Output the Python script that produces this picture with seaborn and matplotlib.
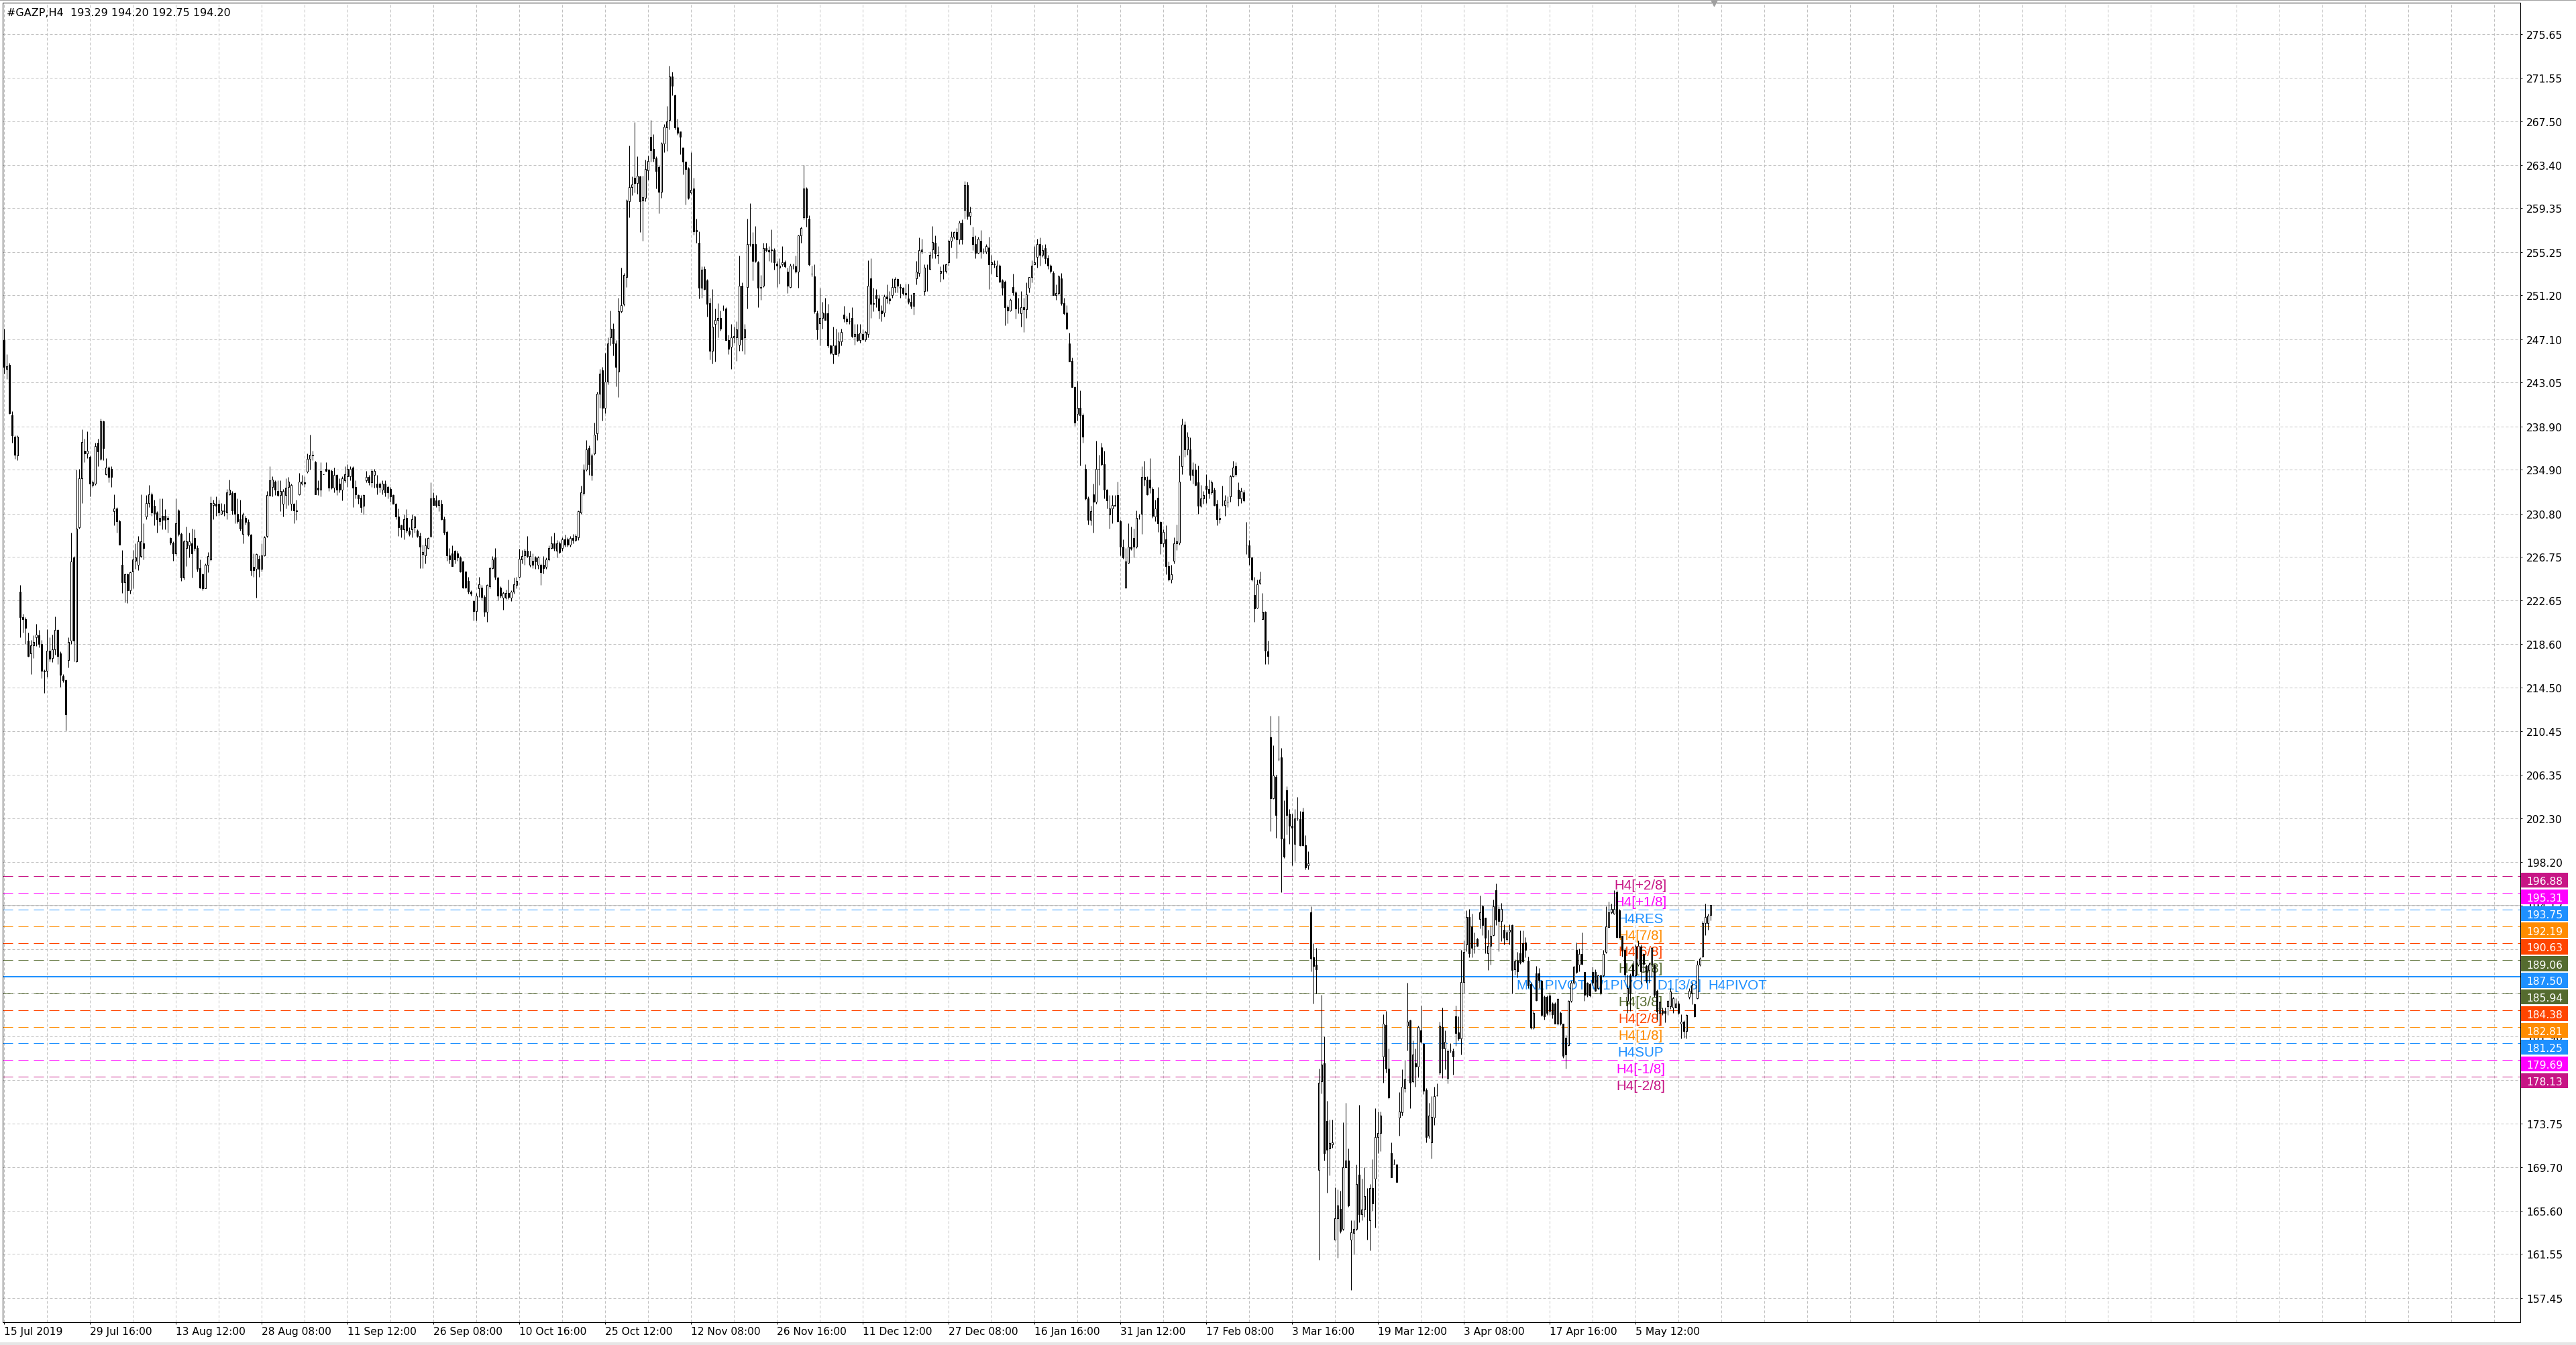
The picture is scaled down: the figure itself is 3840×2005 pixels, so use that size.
import numpy as np
import pandas as pd
import matplotlib
matplotlib.use("Agg")
import matplotlib.pyplot as plt
import matplotlib.transforms as mtransforms
from matplotlib.patches import Rectangle
import seaborn as sns

# header text of the chart (symbol, timeframe, last bar O H L C)
header = "#GAZP,H4  193.29 194.20 192.75 194.20"

# H4 candles, one value per bar (15 Jul 2019 .. mid May 2020)
opens = [
    247.0, 244.3, 244.7, 240.0, 238.0, 236.2, 223.5, 221.1, 220.9, 218.9,
    217.7, 218.5, 219.2, 219.4, 218.6, 216.1, 216.1, 218.0, 217.3, 218.1,
    219.9, 217.7, 215.6, 215.2, 217.1, 218.9, 226.7, 217.0, 229.5, 234.1,
    236.7, 236.4, 236.1, 233.5, 233.6, 237.4, 235.9, 239.4, 234.5, 235.1,
    235.0, 231.0, 231.3, 230.1, 226.0, 224.4, 225.1, 223.6, 225.4, 226.4,
    226.0, 226.8, 228.0, 230.5, 231.8, 232.6, 231.5, 230.9, 230.4, 230.6,
    230.6, 230.4, 228.5, 228.1, 227.1, 231.1, 228.9, 224.8, 227.6, 227.8,
    228.0, 228.5, 227.6, 225.7, 225.1, 223.8, 226.0, 226.5, 231.6, 231.7,
    231.7, 230.8, 231.1, 230.9, 232.6, 232.7, 232.7, 230.8, 230.3, 228.9,
    230.4, 230.0, 228.8, 225.8, 225.6, 226.6, 225.6, 226.9, 228.7, 232.5,
    233.3, 233.8, 232.9, 232.5, 231.7, 232.5, 233.3, 231.7, 231.7, 231.1,
    232.6, 233.6, 233.7, 234.7, 235.9, 236.2, 235.6, 233.2, 233.0, 234.5,
    235.0, 234.9, 234.8, 233.2, 234.4, 233.6, 233.0, 233.9, 234.3, 234.3,
    235.1, 233.3, 232.5, 232.3, 231.5, 233.9, 234.2, 233.7, 234.4, 233.6,
    233.6, 233.0, 233.6, 233.3, 233.1, 232.5, 231.7, 230.5, 229.7, 229.3,
    230.4, 229.2, 229.3, 229.5, 229.2, 228.7, 227.0, 226.9, 227.6, 228.7,
    232.3, 232.0, 231.6, 231.7, 230.3, 229.1, 226.9, 227.1, 227.3, 227.1,
    226.7, 226.3, 225.4, 224.5, 223.5, 222.6, 221.7, 223.8, 223.9, 223.0,
    221.6, 224.0, 225.7, 226.7, 224.8, 223.9, 222.9, 222.9, 223.4, 222.9,
    223.5, 224.1, 224.9, 226.5, 226.9, 227.3, 226.0, 226.4, 226.7, 226.0,
    226.0, 226.0, 225.8, 226.5, 227.6, 228.0, 227.3, 228.0, 227.6, 228.4,
    228.4, 227.9, 228.5, 228.3, 228.6, 230.9, 232.7, 234.9, 236.9, 234.4,
    236.4, 238.3, 242.0, 244.2, 240.7, 243.1, 247.3, 248.1, 246.7, 244.1,
    249.7, 250.4, 252.9, 260.0, 261.3, 262.2, 261.7, 262.3, 260.1, 260.3,
    262.9, 266.0, 264.9, 264.0, 263.2, 260.9, 265.4, 266.9, 267.6, 271.7,
    269.9, 266.9, 266.5, 265.0, 263.7, 263.1, 260.8, 261.2, 257.3, 256.1,
    251.9, 253.7, 252.6, 250.5, 246.0, 248.5, 248.9, 249.1, 250.0, 250.0,
    247.0, 246.4, 247.3, 247.3, 246.6, 252.1, 247.3, 252.0, 256.0, 256.0,
    256.0, 254.3, 251.9, 252.1, 255.6, 255.4, 255.5, 255.4, 254.2, 253.8,
    254.1, 254.3, 253.4, 252.0, 254.0, 253.9, 253.4, 256.8, 258.5, 261.2,
    258.4, 253.2, 253.0, 249.5, 248.6, 249.1, 249.5, 249.5, 246.5, 245.7,
    246.5, 245.8, 246.9, 249.4, 249.0, 248.8, 249.1, 247.4, 247.6, 247.0,
    247.6, 247.1, 247.6, 252.8, 250.5, 251.2, 250.9, 249.8, 249.6, 251.1,
    250.9, 251.2, 252.0, 252.7, 252.0, 251.9, 251.4, 250.9, 250.6, 250.2,
    252.8, 253.3, 255.3, 251.6, 253.8, 253.7, 255.5, 256.1, 255.0, 253.3,
    253.5, 253.5, 254.3, 256.3, 256.7, 257.1, 256.4, 258.0, 259.2, 261.5,
    258.6, 256.7, 256.0, 255.2, 256.3, 255.3, 255.3, 255.7, 254.1, 254.2,
    253.0, 254.0, 252.6, 252.5, 250.1, 249.8, 252.0, 251.5, 250.0, 249.5,
    250.1, 249.9, 251.9, 252.9, 254.1, 254.8, 256.0, 255.0, 255.6, 254.7,
    254.0, 253.3, 251.2, 251.4, 252.8, 250.5, 249.6, 246.7, 245.1, 242.6,
    240.1, 240.7, 240.0, 235.0, 232.2, 230.2, 232.6, 231.9, 235.0, 237.0,
    235.4, 233.0, 230.7, 231.3, 231.6, 232.5, 230.1, 227.7, 223.9, 226.2,
    227.7, 228.5, 227.7, 230.5, 230.8, 234.2, 234.0, 234.0, 233.1, 230.5,
    232.3, 230.0, 228.0, 228.4, 225.9, 224.6, 226.4, 228.0, 228.1, 235.2,
    239.1, 236.8, 236.8, 234.4, 234.9, 233.7, 231.5, 232.2, 233.4, 233.1,
    232.8, 233.0, 231.7, 230.3, 231.7, 231.6, 231.9, 232.4, 234.3, 235.2,
    233.0, 232.2, 232.8, 227.9, 227.8, 226.7, 223.2, 222.0, 224.3, 220.9,
    221.6, 217.9, 209.9, 204.2, 206.2, 207.9, 208.0, 200.4, 204.9, 202.7,
    201.6, 199.9, 202.3, 202.2, 202.9, 199.8, 197.9, 193.5, 189.3, 188.6,
    169.4, 177.7, 179.4, 174.0, 171.4, 171.8, 162.9, 164.9, 165.8, 163.9,
    169.7, 170.3, 162.9, 163.5, 163.9, 169.0, 165.3, 165.7, 164.8, 164.7,
    167.7, 168.6, 172.5, 172.9, 180.0, 183.0, 178.9, 171.0, 170.0, 169.9,
    174.3, 174.8, 177.1, 182.9, 183.4, 177.7, 179.4, 179.1, 182.5, 181.2,
    176.9, 172.6, 172.0, 174.3, 176.4, 178.5, 182.8, 180.8, 178.0, 180.6,
    180.5, 183.8, 182.3, 181.7, 187.0, 190.5, 193.1, 192.2, 190.3, 191.0,
    192.9, 194.1, 193.0, 189.7, 190.4, 191.4, 195.6, 193.8, 192.7, 191.9,
    191.0, 191.7, 192.3, 188.2, 189.0, 189.7, 190.6, 190.7, 189.0, 186.8,
    182.7, 187.8, 187.8, 187.1, 185.6, 185.6, 185.7, 185.0, 185.0, 183.1,
    184.1, 183.1, 181.8, 181.1, 185.2, 186.9, 190.0, 188.6, 189.6, 187.9,
    186.9, 186.8, 187.9, 187.9, 186.4, 187.6, 187.6, 189.8, 192.1, 193.5,
    193.4, 195.4, 193.7, 191.3, 190.0, 185.2, 187.6, 188.6, 187.6, 188.6,
    190.3, 189.6, 188.5, 188.1, 188.6, 188.6, 186.2, 184.1, 184.3, 184.3,
    184.7, 184.7, 184.6, 184.6, 185.0, 183.1, 183.3, 182.4, 185.6, 186.0,
    184.9, 185.5, 188.6, 189.4, 192.5, 192.5, 193.29,
]
highs = [
    248.1, 245.7, 244.9, 240.4, 238.1, 238.1, 224.1, 221.4, 221.1, 219.7,
    219.0, 219.4, 220.5, 219.9, 219.0, 216.2, 220.0, 219.2, 219.5, 221.2,
    220.0, 217.9, 215.8, 215.3, 219.2, 229.0, 226.8, 234.9, 235.0, 238.7,
    237.8, 238.5, 236.2, 233.9, 237.4, 237.8, 239.7, 239.5, 236.0, 235.2,
    235.2, 232.6, 231.4, 230.2, 227.4, 225.2, 225.2, 225.4, 227.4, 228.0,
    228.7, 232.6, 229.9, 232.5, 233.5, 232.8, 232.1, 231.0, 232.2, 232.2,
    231.2, 230.6, 228.6, 228.2, 232.2, 231.2, 229.0, 228.3, 229.6, 229.0,
    229.4, 229.3, 227.8, 226.5, 225.2, 226.1, 227.2, 232.4, 232.1, 232.4,
    232.1, 231.8, 231.7, 233.1, 234.0, 232.9, 232.8, 232.2, 232.1, 230.9,
    230.6, 230.3, 228.9, 227.1, 227.1, 226.9, 228.0, 228.7, 232.9, 235.2,
    234.3, 233.9, 233.9, 233.9, 233.1, 234.1, 234.2, 233.6, 231.8, 232.1,
    234.6, 234.4, 234.3, 236.4, 238.2, 236.7, 235.7, 233.9, 235.6, 234.5,
    235.6, 234.9, 234.9, 235.1, 234.5, 234.1, 234.3, 235.2, 235.4, 235.2,
    235.2, 233.9, 232.6, 232.5, 232.6, 234.8, 234.4, 235.0, 235.0, 234.4,
    233.7, 233.9, 233.9, 233.4, 233.3, 232.6, 231.8, 231.3, 229.8, 230.7,
    231.2, 229.5, 230.7, 230.6, 229.3, 229.0, 227.9, 228.5, 228.6, 233.7,
    232.8, 232.5, 232.1, 232.1, 230.5, 229.2, 227.6, 227.8, 227.4, 227.3,
    226.8, 226.4, 225.4, 224.9, 223.6, 222.7, 223.4, 224.9, 224.1, 223.2,
    224.2, 225.8, 226.8, 227.6, 224.9, 224.0, 223.5, 223.7, 224.6, 223.6,
    224.8, 224.9, 227.5, 227.4, 227.5, 228.7, 227.3, 227.1, 226.8, 226.8,
    226.1, 226.8, 226.7, 227.8, 228.7, 229.0, 228.3, 228.2, 228.6, 228.8,
    228.6, 228.7, 228.9, 228.9, 231.1, 233.4, 235.4, 237.7, 237.2, 236.4,
    239.3, 242.2, 244.3, 244.5, 245.8, 247.3, 249.8, 248.6, 247.0, 251.0,
    253.8, 253.3, 260.2, 265.2, 262.3, 267.4, 264.2, 262.4, 262.4, 263.9,
    264.3, 267.6, 266.3, 264.2, 263.4, 265.5, 267.2, 268.9, 272.7, 272.1,
    270.0, 267.7, 266.5, 265.0, 263.7, 263.2, 264.6, 262.2, 258.4, 257.2,
    253.9, 253.9, 252.7, 251.0, 251.8, 250.0, 250.5, 249.8, 250.3, 250.1,
    247.5, 248.5, 248.3, 248.8, 254.9, 252.4, 248.5, 258.4, 259.8, 257.1,
    257.7, 254.4, 253.1, 256.1, 256.1, 255.8, 257.4, 255.6, 254.4, 254.7,
    255.8, 254.5, 253.8, 254.2, 254.2, 254.9, 256.9, 257.6, 263.4, 261.3,
    258.7, 254.0, 254.1, 249.8, 251.9, 250.6, 251.0, 250.4, 246.6, 248.3,
    248.1, 247.8, 248.1, 250.2, 249.3, 249.6, 250.1, 248.5, 248.5, 248.5,
    248.0, 247.9, 254.5, 254.7, 251.9, 251.8, 251.3, 250.3, 251.3, 252.2,
    251.6, 252.8, 252.9, 252.8, 252.3, 252.0, 252.3, 252.3, 251.3, 251.4,
    254.4, 256.6, 256.5, 254.1, 254.1, 255.3, 257.7, 256.8, 255.8, 253.9,
    254.1, 254.2, 256.4, 257.2, 257.2, 257.5, 258.2, 258.3, 261.9, 261.8,
    259.5, 257.6, 256.8, 256.7, 257.3, 255.6, 256.0, 256.7, 255.0, 254.5,
    254.5, 254.1, 252.7, 252.6, 250.3, 250.9, 253.2, 251.6, 251.0, 251.6,
    251.0, 252.4, 252.9, 254.5, 255.8, 256.5, 256.6, 255.9, 256.0, 255.0,
    254.1, 253.5, 252.2, 253.1, 253.3, 251.0, 250.3, 247.7, 245.4, 242.7,
    243.2, 242.3, 240.2, 235.4, 232.4, 231.5, 233.6, 237.6, 236.3, 237.4,
    236.7, 233.1, 232.5, 232.5, 232.5, 233.8, 230.2, 228.4, 227.6, 229.9,
    229.6, 229.4, 231.1, 230.8, 235.2, 235.7, 234.3, 236.0, 233.3, 232.1,
    233.3, 230.1, 229.3, 229.7, 226.3, 226.0, 228.6, 229.8, 236.2, 239.7,
    239.4, 238.4, 237.9, 235.6, 235.5, 235.3, 233.5, 232.9, 234.5, 234.0,
    233.9, 233.2, 232.1, 231.3, 233.4, 232.5, 232.4, 234.4, 235.7, 235.6,
    233.7, 233.2, 233.0, 230.0, 228.3, 226.7, 224.9, 224.6, 225.4, 223.4,
    221.7, 218.9, 211.9, 209.1, 206.4, 211.9, 208.9, 204.0, 205.3, 203.2,
    202.7, 203.2, 204.3, 203.0, 203.3, 200.7, 199.2, 194.1, 190.6, 190.2,
    178.9, 185.8, 181.9, 175.9, 174.1, 174.1, 167.8, 167.6, 167.5, 173.9,
    175.7, 171.4, 164.7, 164.7, 169.9, 175.5, 168.6, 169.7, 167.7, 168.1,
    170.4, 175.2, 174.9, 174.9, 184.0, 184.3, 180.8, 172.0, 170.4, 170.0,
    176.7, 178.8, 179.7, 186.9, 183.5, 181.5, 180.8, 182.9, 184.8, 181.3,
    177.1, 175.7, 176.3, 177.2, 177.5, 183.3, 184.6, 182.5, 180.7, 181.3,
    180.8, 184.8, 183.8, 190.0, 190.9, 193.7, 193.8, 193.4, 191.6, 191.1,
    195.1, 194.2, 193.0, 191.9, 192.3, 194.7, 196.2, 194.1, 194.4, 192.4,
    191.9, 192.4, 192.4, 189.1, 189.8, 191.8, 191.8, 191.2, 189.4, 187.0,
    184.3, 188.5, 188.3, 187.2, 185.7, 185.7, 186.0, 185.1, 185.1, 185.5,
    184.2, 183.1, 182.0, 185.3, 187.1, 188.5, 190.7, 190.1, 191.6, 187.9,
    187.0, 186.9, 188.4, 188.2, 187.7, 187.7, 190.0, 194.1, 194.5, 194.3,
    195.6, 195.6, 193.8, 191.3, 190.2, 187.7, 187.8, 189.0, 190.5, 190.9,
    190.5, 189.7, 188.6, 188.8, 190.3, 188.7, 186.3, 185.2, 184.6, 184.6,
    185.3, 186.4, 185.6, 185.5, 185.2, 184.0, 183.4, 184.0, 186.4, 187.0,
    185.0, 189.0, 189.3, 192.7, 194.3, 193.4, 194.20,
]
lows = [
    243.9, 243.4, 240.1, 237.4, 235.9, 235.8, 219.2, 219.7, 218.6, 217.4,
    215.8, 217.3, 218.4, 218.3, 215.4, 214.0, 215.5, 217.0, 216.9, 217.6,
    216.7, 214.6, 215.0, 210.5, 216.4, 218.6, 217.0, 216.9, 229.4, 231.8,
    235.6, 236.0, 232.4, 233.3, 233.5, 235.2, 235.8, 235.8, 234.4, 233.7,
    233.3, 229.7, 229.0, 227.9, 223.4, 222.5, 222.4, 223.3, 223.8, 225.6,
    225.5, 226.7, 226.5, 230.3, 231.4, 230.6, 229.7, 229.0, 229.7, 229.3,
    229.3, 229.0, 227.9, 226.4, 226.9, 228.7, 224.5, 224.6, 225.9, 226.7,
    224.8, 227.3, 225.4, 223.8, 223.6, 223.8, 225.3, 226.4, 230.3, 230.6,
    230.6, 230.7, 230.6, 230.3, 232.5, 230.7, 229.9, 229.9, 229.2, 228.0,
    229.8, 228.7, 225.0, 224.9, 222.9, 224.9, 225.4, 226.8, 228.6, 232.4,
    232.4, 232.5, 232.4, 231.0, 230.5, 231.3, 231.6, 231.1, 229.9, 230.2,
    232.5, 233.5, 233.3, 234.6, 234.9, 235.8, 232.6, 232.5, 232.4, 234.5,
    234.7, 232.9, 233.1, 232.8, 232.5, 232.8, 232.0, 233.7, 233.3, 233.9,
    231.4, 232.2, 231.7, 230.9, 230.7, 233.7, 233.5, 233.3, 233.2, 232.6,
    232.8, 232.6, 232.4, 232.2, 231.9, 231.7, 230.3, 228.7, 228.6, 228.4,
    229.0, 228.7, 228.6, 229.0, 228.6, 225.7, 225.7, 226.1, 227.5, 228.6,
    231.6, 231.4, 231.0, 230.2, 228.8, 226.4, 226.1, 225.9, 226.1, 226.4,
    225.3, 223.8, 223.8, 223.3, 223.1, 220.8, 220.8, 223.0, 222.7, 221.2,
    220.7, 223.8, 225.6, 224.6, 222.7, 222.9, 221.8, 222.8, 222.8, 222.6,
    223.3, 223.8, 224.8, 226.1, 226.0, 226.7, 225.8, 225.7, 225.6, 225.6,
    224.1, 225.2, 225.6, 226.4, 227.5, 227.3, 226.7, 227.1, 227.3, 227.7,
    227.7, 227.7, 228.0, 228.2, 228.3, 230.8, 232.5, 234.8, 234.4, 233.9,
    236.3, 237.7, 240.7, 239.5, 240.2, 242.9, 246.5, 245.6, 242.7, 241.7,
    249.6, 250.2, 252.0, 258.5, 260.6, 260.8, 260.7, 257.1, 256.3, 260.0,
    262.0, 263.7, 263.7, 261.2, 258.9, 260.3, 264.6, 264.7, 266.7, 269.9,
    266.7, 266.2, 264.4, 262.5, 259.7, 260.2, 260.7, 256.9, 256.1, 250.9,
    251.0, 251.7, 249.2, 245.2, 244.8, 245.0, 247.3, 247.9, 249.8, 247.0,
    245.7, 244.3, 246.8, 245.1, 246.0, 246.0, 245.7, 250.0, 255.8, 252.6,
    254.3, 250.1, 250.8, 252.0, 255.3, 254.4, 254.3, 253.6, 252.0, 252.3,
    253.9, 253.8, 251.4, 251.9, 253.7, 253.3, 251.9, 256.1, 258.3, 257.6,
    254.0, 253.0, 249.5, 247.1, 246.5, 248.1, 248.9, 246.3, 245.7, 244.8,
    245.7, 245.5, 246.5, 248.7, 248.5, 248.5, 247.3, 246.6, 246.9, 246.8,
    247.0, 246.9, 247.3, 249.1, 249.7, 250.1, 249.0, 248.8, 249.2, 250.5,
    250.4, 251.0, 251.5, 251.5, 251.0, 251.2, 250.9, 250.4, 250.0, 249.4,
    252.2, 253.0, 255.1, 251.2, 251.6, 253.6, 254.7, 254.7, 254.2, 252.5,
    252.7, 253.3, 254.0, 255.7, 256.5, 254.7, 256.0, 256.0, 258.4, 258.3,
    257.8, 255.4, 254.7, 255.1, 254.7, 255.1, 255.1, 251.8, 253.2, 253.8,
    253.0, 252.4, 251.2, 248.4, 248.6, 249.7, 251.2, 249.0, 249.5, 248.3,
    247.8, 249.1, 251.5, 252.4, 254.1, 253.8, 254.0, 254.8, 254.2, 253.7,
    253.3, 251.2, 250.8, 251.2, 250.3, 249.4, 248.0, 245.0, 242.6, 239.0,
    239.5, 235.3, 237.4, 232.1, 229.8, 229.7, 229.0, 231.7, 233.5, 235.3,
    232.2, 231.3, 229.4, 229.9, 231.5, 230.0, 226.9, 226.6, 223.8, 226.1,
    227.4, 226.7, 227.6, 230.3, 228.9, 233.4, 232.5, 232.7, 230.4, 230.1,
    229.1, 227.0, 227.7, 225.1, 224.5, 224.3, 226.1, 227.4, 227.9, 234.5,
    236.1, 236.3, 233.9, 233.6, 233.4, 230.8, 231.4, 231.7, 231.8, 232.2,
    232.6, 231.5, 229.7, 229.9, 231.5, 230.6, 231.4, 231.9, 234.2, 234.3,
    231.5, 231.8, 231.9, 227.0, 226.0, 224.5, 220.7, 221.9, 224.2, 220.9,
    216.7, 216.7, 201.1, 204.1, 200.5, 207.7, 195.4, 198.6, 200.8, 199.9,
    197.9, 198.3, 202.1, 199.7, 199.7, 197.5, 197.5, 188.0, 185.0, 185.9,
    161.0, 176.6, 170.3, 167.3, 168.9, 171.5, 162.9, 161.2, 163.5, 163.8,
    169.7, 166.0, 158.2, 161.5, 163.8, 164.5, 164.7, 165.0, 162.9, 161.9,
    165.6, 164.0, 171.0, 171.2, 177.6, 178.5, 176.1, 168.7, 169.9, 168.3,
    172.6, 174.5, 176.7, 180.6, 175.2, 177.6, 177.2, 178.1, 181.3, 176.5,
    172.0, 172.4, 170.5, 173.6, 176.3, 178.3, 178.0, 178.8, 177.5, 180.4,
    178.3, 181.0, 181.5, 180.2, 185.9, 189.9, 189.3, 189.3, 189.7, 190.3,
    192.0, 191.4, 189.7, 188.1, 188.6, 191.3, 192.3, 189.9, 190.8, 190.5,
    190.8, 190.5, 185.9, 187.7, 187.4, 188.7, 188.8, 189.3, 186.4, 182.6,
    182.6, 185.2, 186.4, 183.8, 183.5, 183.9, 183.9, 183.6, 183.1, 183.0,
    183.0, 179.9, 178.9, 181.0, 185.1, 186.8, 187.8, 188.0, 188.6, 185.2,
    185.6, 185.6, 186.7, 186.1, 186.3, 185.8, 187.5, 189.7, 192.1, 193.4,
    193.3, 191.1, 191.1, 189.4, 187.2, 184.1, 184.3, 187.5, 187.5, 188.5,
    186.8, 187.9, 186.9, 186.9, 187.4, 185.6, 183.5, 183.0, 183.9, 183.2,
    183.9, 184.5, 184.1, 184.6, 184.0, 181.7, 181.8, 181.7, 185.4, 184.9,
    183.7, 185.4, 188.5, 189.3, 191.4, 191.9, 192.75,
]
closes = [
    244.5, 244.6, 240.2, 238.1, 236.3, 238.0, 221.1, 220.9, 220.1, 217.5,
    218.5, 218.8, 219.5, 218.6, 216.1, 216.0, 218.0, 217.2, 218.1, 219.9,
    217.5, 215.7, 215.2, 212.0, 218.8, 226.3, 218.9, 229.4, 234.1, 237.5,
    236.4, 236.7, 233.6, 233.7, 237.1, 236.6, 239.4, 236.9, 235.1, 234.2,
    234.2, 231.3, 230.1, 227.9, 224.4, 225.1, 223.6, 225.3, 226.5, 226.7,
    228.2, 228.2, 227.6, 231.8, 232.6, 230.9, 230.8, 230.3, 230.1, 230.2,
    230.2, 230.3, 228.1, 227.1, 229.9, 228.9, 224.8, 228.2, 228.2, 228.2,
    227.1, 227.6, 225.6, 223.9, 223.8, 226.0, 226.8, 231.8, 231.8, 231.5,
    230.9, 231.1, 231.0, 232.8, 233.0, 231.1, 230.8, 230.1, 229.4, 230.7,
    230.0, 228.8, 225.5, 225.5, 227.0, 225.6, 226.9, 228.6, 232.5, 233.9,
    234.0, 233.0, 232.5, 232.9, 232.9, 233.2, 233.8, 233.5, 231.1, 231.0,
    233.8, 233.8, 233.6, 235.9, 236.3, 236.3, 232.6, 233.0, 234.8, 234.5,
    234.8, 233.2, 233.2, 234.4, 233.0, 233.0, 234.1, 234.5, 235.0, 235.0,
    233.2, 232.6, 232.2, 231.4, 232.5, 234.2, 233.7, 234.8, 234.8, 233.3,
    233.3, 233.6, 232.8, 232.8, 232.4, 231.7, 230.5, 229.5, 229.3, 230.3,
    229.2, 228.9, 230.3, 230.5, 228.7, 227.7, 227.2, 227.8, 228.5, 232.2,
    231.6, 231.6, 232.0, 230.3, 229.0, 226.9, 226.5, 225.9, 226.5, 226.7,
    225.4, 223.9, 223.9, 223.5, 223.3, 221.7, 223.1, 224.2, 223.0, 221.6,
    224.1, 225.7, 226.5, 224.9, 223.1, 223.1, 223.4, 223.4, 223.0, 223.5,
    224.2, 224.5, 226.6, 226.8, 227.3, 226.8, 226.8, 226.0, 226.3, 226.7,
    225.3, 225.7, 226.5, 227.6, 228.0, 227.6, 228.0, 227.2, 228.4, 227.9,
    227.9, 228.5, 228.3, 228.7, 231.0, 232.8, 234.9, 236.8, 235.4, 236.2,
    238.2, 242.0, 243.9, 240.7, 243.1, 246.7, 248.1, 246.7, 244.5, 249.7,
    250.3, 253.1, 260.1, 261.3, 261.6, 261.7, 262.4, 260.0, 260.4, 263.0,
    263.8, 264.8, 264.0, 262.8, 260.9, 265.4, 267.0, 267.5, 271.7, 270.8,
    266.9, 266.4, 266.0, 263.7, 263.0, 260.3, 261.1, 257.2, 257.2, 251.9,
    253.6, 251.8, 250.4, 246.0, 248.3, 248.9, 249.1, 248.1, 250.0, 247.0,
    246.2, 247.3, 247.4, 248.0, 252.1, 247.1, 248.0, 256.0, 256.0, 254.4,
    254.4, 251.9, 252.0, 255.6, 255.4, 255.3, 255.4, 254.3, 254.0, 254.0,
    254.3, 253.9, 252.1, 254.0, 254.0, 253.4, 256.8, 257.5, 261.2, 258.5,
    254.1, 253.2, 249.7, 248.0, 249.1, 249.6, 248.9, 246.5, 245.8, 246.5,
    245.7, 246.9, 247.8, 249.0, 248.8, 248.8, 247.4, 247.6, 247.0, 247.7,
    247.1, 247.8, 252.1, 250.4, 250.4, 250.9, 249.8, 249.5, 251.1, 250.9,
    250.7, 252.0, 252.7, 252.1, 251.9, 251.4, 251.3, 250.6, 250.2, 251.4,
    253.4, 255.4, 255.5, 253.8, 253.8, 255.0, 256.2, 255.1, 254.9, 253.5,
    253.5, 254.1, 256.3, 256.7, 257.1, 256.4, 258.0, 256.4, 261.5, 258.6,
    259.0, 256.0, 255.2, 256.5, 255.3, 255.3, 255.8, 254.1, 254.3, 254.1,
    254.0, 252.5, 251.9, 250.1, 249.8, 250.8, 251.5, 250.0, 250.0, 250.1,
    249.9, 251.3, 252.9, 254.0, 254.3, 256.0, 255.0, 255.4, 254.7, 254.0,
    253.5, 251.2, 251.4, 253.0, 250.5, 249.5, 248.1, 245.0, 242.6, 239.3,
    240.7, 240.0, 238.0, 232.2, 230.2, 231.0, 231.9, 235.0, 235.0, 235.4,
    233.0, 232.0, 231.3, 231.6, 231.5, 230.1, 227.7, 226.7, 226.3, 227.7,
    227.5, 227.7, 230.4, 230.5, 234.2, 234.0, 232.6, 233.2, 230.6, 231.3,
    229.9, 228.0, 229.1, 225.9, 224.6, 225.1, 228.0, 228.2, 233.8, 239.1,
    236.8, 238.0, 234.4, 234.9, 233.5, 231.5, 232.2, 232.5, 233.1, 232.7,
    233.7, 231.6, 230.3, 230.4, 231.7, 232.0, 231.9, 234.3, 235.1, 234.5,
    232.2, 232.9, 232.0, 227.9, 226.7, 224.6, 221.9, 224.2, 224.6, 221.6,
    218.0, 217.5, 204.2, 206.3, 202.6, 207.9, 200.4, 198.7, 202.6, 201.6,
    201.4, 202.3, 202.3, 199.8, 199.8, 197.7, 198.1, 189.2, 188.5, 188.2,
    177.6, 179.3, 171.0, 171.3, 171.9, 172.0, 164.9, 166.1, 163.7, 169.7,
    170.3, 166.1, 163.6, 163.9, 168.1, 165.3, 165.7, 167.0, 164.8, 167.7,
    166.3, 172.5, 172.9, 174.5, 183.1, 178.9, 176.2, 168.7, 170.0, 168.3,
    174.9, 177.2, 177.9, 183.3, 177.6, 180.2, 179.1, 182.8, 181.4, 176.8,
    172.5, 174.5, 174.4, 176.3, 176.4, 182.9, 180.8, 181.4, 180.5, 180.6,
    180.0, 182.2, 181.7, 187.0, 189.8, 193.1, 189.7, 190.2, 190.3, 190.4,
    193.5, 192.3, 191.1, 190.4, 191.3, 194.1, 192.8, 192.7, 193.8, 191.1,
    191.6, 191.9, 188.1, 188.9, 188.0, 188.8, 188.9, 190.0, 186.7, 182.7,
    184.1, 185.3, 187.2, 183.9, 183.8, 184.1, 184.3, 184.0, 183.1, 185.4,
    183.1, 180.1, 180.2, 185.2, 186.9, 188.4, 187.9, 189.6, 188.7, 185.8,
    185.8, 185.7, 186.9, 186.2, 187.6, 186.0, 189.6, 192.2, 193.5, 193.8,
    193.8, 191.2, 191.2, 190.0, 187.7, 186.4, 186.0, 187.6, 190.3, 190.4,
    188.0, 188.7, 187.1, 188.6, 190.2, 185.8, 184.2, 185.1, 184.1, 184.1,
    185.2, 186.1, 185.5, 185.0, 184.1, 183.3, 182.4, 183.9, 186.2, 186.7,
    183.8, 188.6, 189.2, 192.5, 193.1, 193.2, 194.20,
]

# time axis labels, one every 32 bars
time_labels = [
    "15 Jul 2019", "29 Jul 16:00", "13 Aug 12:00", "28 Aug 08:00", "11 Sep 12:00",
    "26 Sep 08:00", "10 Oct 16:00", "25 Oct 12:00", "12 Nov 08:00", "26 Nov 16:00",
    "11 Dec 12:00", "27 Dec 08:00", "16 Jan 16:00", "31 Jan 12:00", "17 Feb 08:00",
    "3 Mar 16:00", "19 Mar 12:00", "3 Apr 08:00", "17 Apr 16:00", "5 May 12:00",
]
# price axis labels
price_labels = [
    "275.65", "271.55", "267.50", "263.40", "259.35", "255.25", "251.20", "247.10",
    "243.05", "238.90", "234.90", "230.80", "226.75", "222.65", "218.60", "214.50",
    "210.45", "206.35", "202.30", "198.20", "194.12", "190.05", "185.97", "181.90",
    "177.82", "173.75", "169.70", "165.60", "161.55", "157.45",
]

# Murrey math levels (H4) with their labels and colours
mm_levels = [196.88, 195.31, 193.75, 192.19, 190.63, 189.06, 187.50,
             185.94, 184.38, 182.81, 181.25, 179.69, 178.13]
mm_names = ["H4[+2/8]", "H4[+1/8]", "H4RES", "H4[7/8]", "H4[6/8]", "H4[5/8]", "",
            "H4[3/8]", "H4[2/8]", "H4[1/8]", "H4SUP", "H4[-1/8]", "H4[-2/8]"]
mm_colors = ["#C71585", "#FF00FF", "#1E90FF", "#FF8C00", "#FF4500", "#556B2F", "#1E90FF",
             "#556B2F", "#FF4500", "#FF8C00", "#1E90FF", "#FF00FF", "#C71585"]
pivot_level = 187.50
pivot_names = ["MN1PIVOT", "W1PIVOT", "D1[3/8]", "H4PIVOT"]
bid_price = 194.20

W, H = 3840, 2006
PT = 0.72  # points per pixel at dpi 100

sns.set_theme(style="white")
plt.rcParams["font.family"] = ["DejaVu Sans"]
plt.rcParams["lines.scale_dashes"] = False

candles = pd.DataFrame({"open": opens, "high": highs, "low": lows, "close": closes})
candles["bar"] = np.arange(len(candles))
rising = candles["close"] >= candles["open"]

fig = plt.figure(figsize=(W / 100, H / 100), dpi=100)
fig.patch.set_facecolor("white")
left, right, top, bottom = 3.5, 3757.0, 4.6, 1972.0
ax = fig.add_axes([left / W, 1 - bottom / H, (right - left) / W, (bottom - top) / H])
ax.set_facecolor("white")
px_ax = 1.0 / (right - left)  # one pixel in axes fraction (x)

# candles
ax.vlines(candles["bar"], candles["low"], candles["high"], color="black",
          linewidth=PT, zorder=3)
ax.bar(candles["bar"], (candles["close"] - candles["open"]).abs(),
       bottom=candles[["open", "close"]].min(axis=1), width=0.55,
       color=np.where(rising, "white", "black"), edgecolor="black",
       linewidth=PT, zorder=4)

# murrey levels + labels
mm_font = ["Liberation Sans", "DejaVu Sans"]
dash = (0, (15 * PT, 8 * PT))
for level, name, colour in zip(mm_levels, mm_names, mm_colors):
    if level == pivot_level:
        ax.axhline(level, color=colour, linewidth=2 * PT, zorder=2)
    else:
        ax.axhline(level, color=colour, linewidth=PT, linestyle=dash, zorder=2)
        ax.text(610, level - 0.22, name, ha="center", va="top", color=colour,
                fontsize=20.5 * PT, family=mm_font, zorder=2.5)
for name, x in zip(pivot_names, [563.7, 591.3, 616.2, 635.0]):
    ax.text(x, pivot_level - 0.22, name, ha="left", va="top", color="#1E90FF",
            fontsize=20.5 * PT, family=mm_font, zorder=2.5)

# bid line
ax.axhline(bid_price, color="#C0C0C0", linewidth=PT, zorder=1.8)

# axes, ticks, grid
ax.set_xlim(-0.625, 937.75)
ax.set_ylim(155.18, 278.6)
ax.yaxis.tick_right()
ax.set_yticks([float(s) for s in price_labels])
ax.set_yticklabels(price_labels)
ax.set_xticks(np.arange(len(time_labels)) * 32)
ax.set_xticklabels(time_labels, ha="left")
ax.set_xticks(np.arange(16, 938, 16), minor=True)
ax.tick_params(axis="x", which="major", bottom=True, top=False, direction="out",
               length=3 * PT, width=PT, pad=2, labelsize=11.2, colors="black")
ax.tick_params(axis="x", which="minor", bottom=True, length=0)
ax.tick_params(axis="y", which="major", right=True, left=False, direction="out",
               length=3 * PT, width=PT, pad=4.3, labelsize=11.2, colors="black")
ax.grid(True, which="both", color="#C0C0C0", linewidth=PT,
        linestyle=(0, (4 * PT, 3 * PT)))
ax.set_axisbelow(True)
for spine in ax.spines.values():
    spine.set_color("black")
    spine.set_linewidth(PT)

# coloured price boxes on the right axis (drawn a few pixels below the level)
ytrans = ax.get_yaxis_transform()
box_shift = 0.35
for level, colour in zip(mm_levels, mm_colors):
    ax.add_patch(Rectangle((1 + 1 * px_ax, level - box_shift - 0.70), 70 * px_ax, 1.40,
                           transform=ytrans, facecolor=colour, edgecolor="none",
                           clip_on=False, zorder=6))
    ax.text(1 + 9 * px_ax, level - box_shift, f"{level:.2f}", transform=ytrans,
            ha="left", va="center_baseline", color="white", fontsize=11.2,
            zorder=7, clip_on=False)

# header
ax.text(6 * px_ax, 1 - 7.4 / (bottom - top), header, transform=ax.transAxes,
        ha="left", va="top", fontsize=11.5, color="black", zorder=8)

# chart shift marker at the top
shift_trans = mtransforms.blended_transform_factory(ax.transData, ax.transAxes)
ax.plot([len(candles) + 0.3], [1.0], marker="v", markersize=7, color="#A0A0A0",
        transform=shift_trans, clip_on=False, zorder=9)

# window border bits
fig.add_artist(Rectangle((0, 1 - 2 / H), 1, 2 / H, transform=fig.transFigure,
                         facecolor="#A0A0A0", edgecolor="none"))
fig.add_artist(Rectangle((0, 0), 1, 4 / H, transform=fig.transFigure,
                         facecolor="#E6E6E6", edgecolor="none"))

fig.savefig("out.png", dpi=100, facecolor="white")
